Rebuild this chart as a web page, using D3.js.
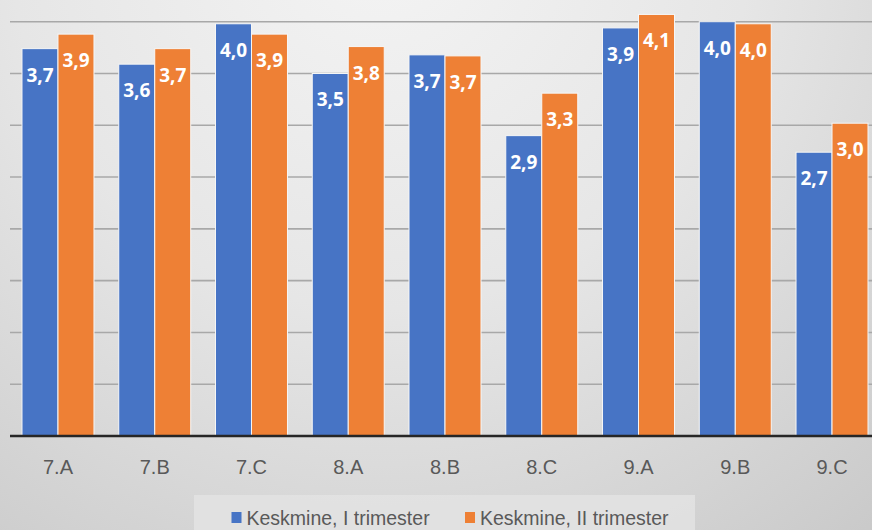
<!DOCTYPE html>
<html>
<head>
<meta charset="utf-8">
<script src="https://cdn.jsdelivr.net/npm/d3@7/dist/d3.min.js"></script>
<style>
  html, body { margin: 0; padding: 0; background: #dcdcdc; }
  svg { display: block; }
</style>
</head>
<body>
<svg id="chart" width="872" height="530"></svg>
<script>
const categories = ["7.A", "7.B", "7.C", "8.A", "8.B", "8.C", "9.A", "9.B", "9.C"];
const seriesNames = ["Keskmine, I trimester", "Keskmine, II trimester"];
const trimester1 = [3.74, 3.59, 3.98, 3.50, 3.68, 2.90, 3.94, 4.00, 2.74];
const trimester2 = [3.88, 3.74, 3.88, 3.76, 3.67, 3.31, 4.07, 3.98, 3.02];
const gridTicks = [0.5, 1.0, 1.5, 2.0, 2.5, 3.0, 3.5, 4.0];
const colors = ["#4774C5", "#EE8035"];

const svg = d3.select("#chart");
const W = 872, H = 530;

// background gradient
const defs = svg.append("defs");
const rg = defs.append("radialGradient")
  .attr("id", "bg").attr("gradientUnits", "userSpaceOnUse")
  .attr("cx", 380).attr("cy", -60).attr("r", 820);
rg.append("stop").attr("offset", "0%").attr("stop-color", "#f4f4f4");
rg.append("stop").attr("offset", "45%").attr("stop-color", "#e6e6e6");
rg.append("stop").attr("offset", "100%").attr("stop-color", "#c6c6c6");
svg.append("rect").attr("width", W).attr("height", H).attr("fill", "url(#bg)");

const x = d3.scaleBand().domain(categories).range([9.6, 880.4]).paddingInner(0.256).paddingOuter(0.128);
const xs = d3.scaleBand().domain([0, 1]).range([0, x.bandwidth()]);
const y = d3.scaleLinear().domain([0, 4]).range([436, 21.7]);

// gridlines
svg.append("g").selectAll("line").data(gridTicks).join("line")
  .attr("x1", 10).attr("x2", W)
  .attr("y1", d => y(d)).attr("y2", d => y(d))
  .attr("stroke", "#a8a8a8").attr("stroke-width", 1.6);

const data = categories.map((c, i) => ({cat: c, vals: [trimester1[i], trimester2[i]]}));
const fmt = d => d3.format(".1f")(d).replace(".", ",");

const groups = svg.append("g").selectAll("g").data(data).join("g")
  .attr("transform", d => `translate(${x(d.cat)},0)`);

groups.selectAll("rect").data(d => d.vals.map((v, s) => ({v, s}))).join("rect")
  .attr("x", d => xs(d.s))
  .attr("width", xs.bandwidth())
  .attr("y", d => y(d.v))
  .attr("height", d => y(0) - y(d.v))
  .attr("fill", d => colors[d.s])
  .attr("stroke", "#f6f6f6").attr("stroke-width", 1);

groups.selectAll("text").data(d => d.vals.map((v, s) => ({v, s}))).join("text")
  .attr("x", d => xs(d.s) + xs.bandwidth() / 2)
  .attr("y", d => y(d.v) + 33)
  .attr("text-anchor", "middle")
  .attr("font-family", "'Open Sans', sans-serif")
  .attr("font-weight", "bold")
  .attr("font-size", 19)
  .attr("fill", "#ffffff")
  .text(d => fmt(d.v));

// baseline
svg.append("line").attr("x1", 10).attr("x2", W).attr("y1", y(0)).attr("y2", y(0))
  .attr("stroke", "#262626").attr("stroke-width", 2.5);

// x axis labels
const xAxis = d3.axisBottom(x).tickSize(0).tickPadding(0);
const gx = svg.append("g").attr("transform", `translate(0,${y(0)})`).call(xAxis);
gx.select(".domain").remove();
gx.selectAll("text")
  .attr("y", 38).attr("dy", null)
  .attr("font-family", "'Liberation Sans', sans-serif")
  .attr("font-size", 20)
  .attr("fill", "#595959");

// legend
svg.append("rect").attr("x", 194).attr("y", 495).attr("width", 501).attr("height", 40)
  .attr("fill", "#e3e3e3").attr("opacity", 0.85);
const legendX = [231.5, 465];
const lg = svg.append("g").selectAll("g").data(seriesNames).join("g")
  .attr("transform", (d, i) => `translate(${legendX[i]},0)`);
lg.append("rect").attr("x", 0).attr("y", 512).attr("width", 10).attr("height", 11)
  .attr("fill", (d, i) => colors[i]);
lg.append("text").attr("x", 15).attr("y", 525)
  .attr("font-family", "'Liberation Sans', sans-serif")
  .attr("font-size", 19.5)
  .attr("fill", "#595959")
  .text(d => d);
</script>
</body>
</html>
